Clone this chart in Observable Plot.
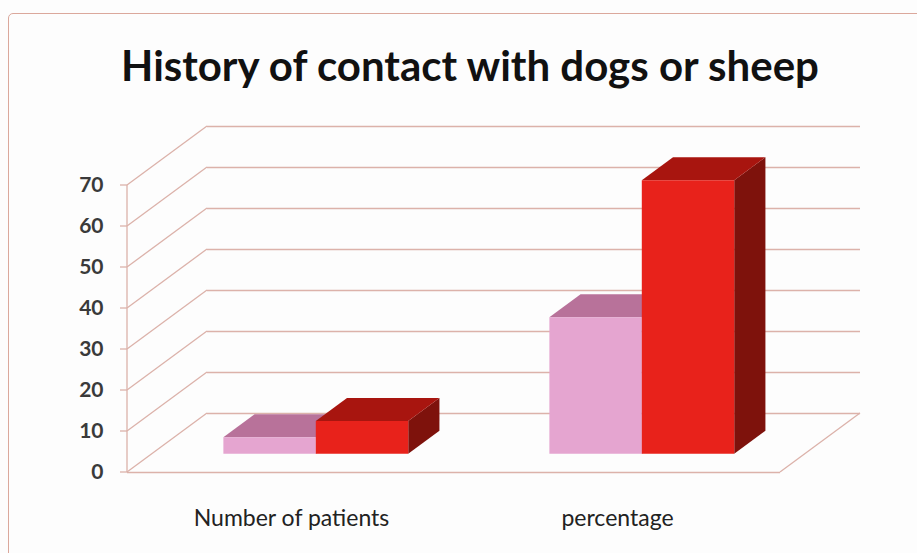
<!DOCTYPE html>
<html>
<head>
<meta charset="utf-8">
<script src="https://cdn.jsdelivr.net/npm/d3@7"></script>
<script src="https://cdn.jsdelivr.net/npm/@observablehq/plot@0.6"></script>
<style>
  html, body { margin: 0; padding: 0; background: #fdfdfd; }
  #wrap { position: relative; width: 917px; height: 553px; overflow: hidden; background: #fdfdfd; }
  #frame { position: absolute; left: 8px; top: 13px; width: 920px; height: 560px;
           border: 1.5px solid #dba89c; border-radius: 5px; pointer-events: none; }
  #chart { position: absolute; left: 0; top: 0; }
</style>
</head>
<body>
<div id="wrap"><div id="frame"></div><div id="chart"></div></div>
<script>
// ---- data ----
const title = "History of contact with dogs or sheep";
const categories = ["Number of patients", "percentage"];
const seriesNames = ["Series 1", "Series 2"];
const series1 = [4, 33.3];
const series2 = [8, 66.7];
const yTicks = [0, 10, 20, 30, 40, 50, 60, 70];

// ---- styling constants ----
const GRID = "#dcb2aa";
const DEPTH_DX = 80, DEPTH_DY = 59;      // full floor depth (oblique projection)
const BAR_FRONT = 0.31, BAR_BACK = 0.70; // bar depth position as fraction of floor depth
const GROUP = 0.567;                     // fraction of band used by the bar group
const faceColors = {
  "Series 1": {front: "#e5a5d0", top: "#b8729a", side: "#9e5a80"},
  "Series 2": {front: "#e8221b", top: "#a8150f", side: "#7e120c"}
};

const rows = categories.flatMap((c, i) =>
  seriesNames.map((s, j) => ({category: c, series: s, j, value: [series1, series2][j][i]}))
);

function wallsRender(index, scales, values, dims) {
  const g = d3.create("svg:g").attr("fill", "none").attr("stroke", GRID).attr("stroke-width", 1.3);
  const xl = dims.marginLeft, xr = dims.width - dims.marginRight;
  const y = scales.y;
  const y0 = y(0), yMax = y(d3.max(yTicks));
  for (const i of index) {
    const yy = values.y[i];
    g.append("line").attr("x1", xl).attr("y1", yy).attr("x2", xl + DEPTH_DX).attr("y2", yy - DEPTH_DY);
    g.append("line").attr("x1", xl - 7).attr("y1", yy).attr("x2", xl).attr("y2", yy);
  }
  g.append("line").attr("x1", xl).attr("y1", y0).attr("x2", xl).attr("y2", yMax);
  g.append("line").attr("x1", xr).attr("y1", y0).attr("x2", xr + DEPTH_DX).attr("y2", y0 - DEPTH_DY);
  return g.node();
}

function bars3dRender(index, scales, values, dims) {
  const g = d3.create("svg:g");
  const x = scales.x, y = scales.y;
  const bw = typeof x.bandwidth === "function" ? x.bandwidth()
           : (dims.width - dims.marginLeft - dims.marginRight) / categories.length;
  const fdx = BAR_FRONT * DEPTH_DX, fdy = BAR_FRONT * DEPTH_DY;
  const bdx = (BAR_BACK - BAR_FRONT) * DEPTH_DX, bdy = (BAR_BACK - BAR_FRONT) * DEPTH_DY;
  const barW = bw * GROUP / seriesNames.length;
  for (const i of index) {
    const d = rows[i];
    const xL = x(d.category) + bw * (1 - GROUP) / 2 + d.j * barW + fdx;
    const xR = xL + barW;
    const yT = y(d.value) - fdy, yB = y(0) - fdy;
    const c = faceColors[d.series];
    const poly = (pts, fill) => g.append("path").attr("d", "M" + pts.map(p => p.join(",")).join("L") + "Z").attr("fill", fill);
    poly([[xR, yT], [xR + bdx, yT - bdy], [xR + bdx, yB - bdy], [xR, yB]], c.side);
    poly([[xL, yT], [xR, yT], [xR + bdx, yT - bdy], [xL + bdx, yT - bdy]], c.top);
    poly([[xL, yT], [xR, yT], [xR, yB], [xL, yB]], c.front);
  }
  return g.node();
}

const chart = Plot.plot({
  width: 917,
  height: 553,
  marginLeft: 127,
  marginRight: 137,
  marginTop: 185,
  marginBottom: 81,
  style: {background: "transparent", overflow: "visible", fontFamily: "Lato, 'Open Sans', sans-serif"},
  x: {type: "band", domain: categories, padding: 0, axis: null},
  y: {domain: [0, 70], axis: null},
  marks: [
    Plot.ruleY(yTicks, {y: d => d, dx: DEPTH_DX, dy: -DEPTH_DY, stroke: GRID, strokeWidth: 1.3}),
    Plot.ruleY(yTicks, {y: d => d, stroke: "none", render: wallsRender}),
    Plot.ruleY([0], {stroke: GRID, strokeWidth: 1.3}),
    Plot.barY(rows, {x: "category", y1: 0, y2: "value", render: bars3dRender}),
    Plot.text(yTicks, {y: d => d, frameAnchor: "left", textAnchor: "end", dx: -24,
      text: d => String(d), fontSize: 21, fontWeight: "bold", fill: "#3a3a3a"}),
    Plot.text(categories, {x: d => d, frameAnchor: "bottom", lineAnchor: "bottom", dy: 53,
      text: d => d, fontSize: 23, fill: "#222"}),
    Plot.text([title], {frameAnchor: "top", lineAnchor: "bottom", dx: 16, dy: -105,
      text: d => d, fontSize: 42, fontWeight: "bold", fill: "#111"})
  ]
});
document.getElementById("chart").appendChild(chart);
</script>
</body>
</html>
